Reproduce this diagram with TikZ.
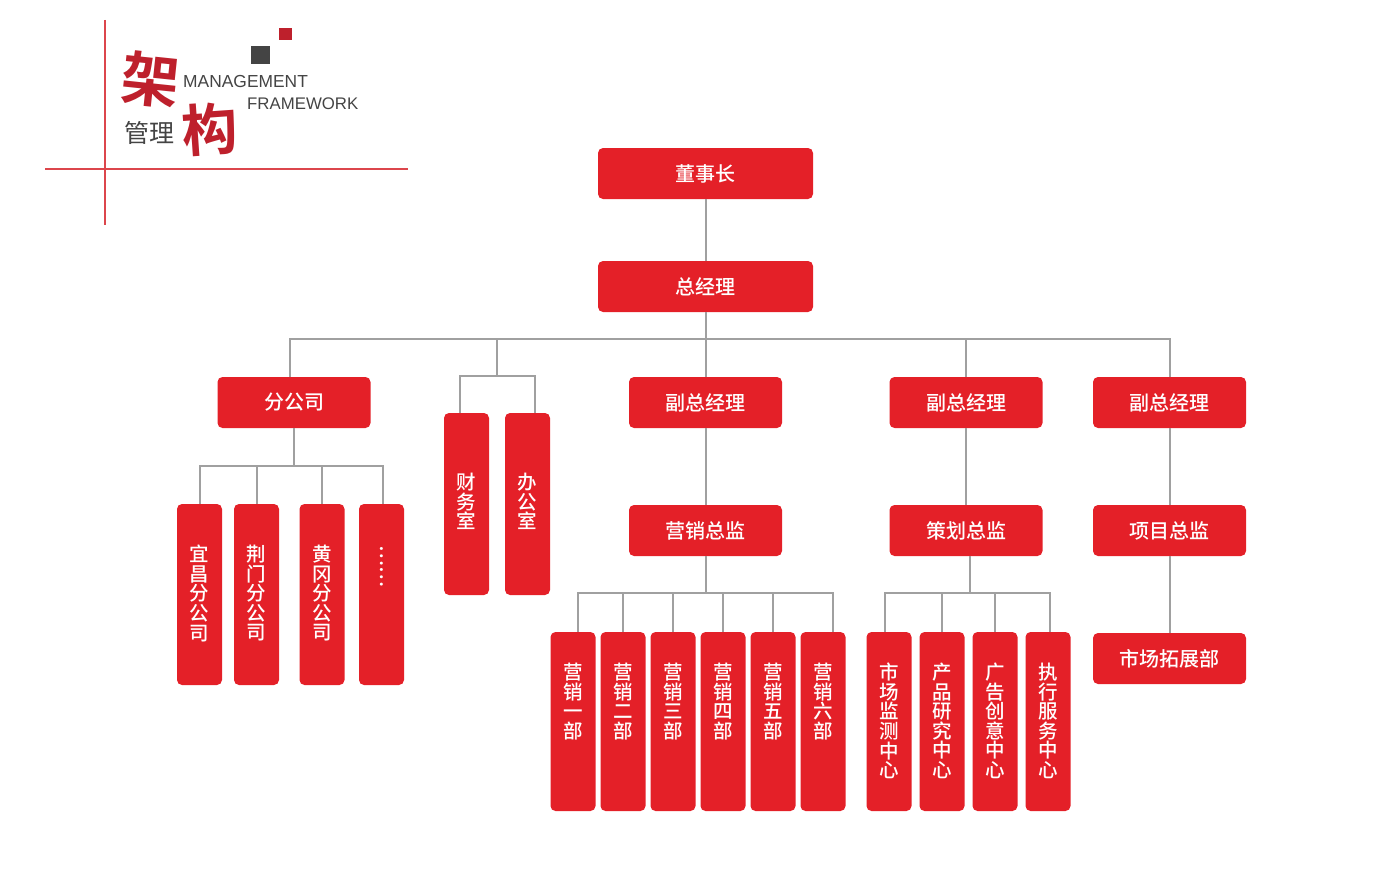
\documentclass[tikz,border=0pt]{standalone}
\usepackage{fontspec}
\setmainfont{Liberation Sans}
\newfontfamily\cjk{Noto Sans CJK SC}[UprightFont=* Medium, BoldFont=* Bold]
\newfontfamily\cjklight{Noto Sans CJK SC}
\usetikzlibrary{positioning}

\definecolor{boxred}{RGB}{228,32,40}
\definecolor{linkgray}{RGB}{160,160,160}
\definecolor{logored}{RGB}{190,32,44}
\definecolor{logoline}{RGB}{220,70,76}
\definecolor{logogray}{RGB}{68,68,68}

\tikzset{
  wbox/.style={fill=boxred, rounded corners=5pt, minimum width=153pt, minimum height=51pt,
    inner sep=0pt, text=white, font=\cjk\fontsize{20}{20}\selectfont},
  topbox/.style={wbox, minimum width=215pt},
  tbox/.style={fill=boxred, rounded corners=5pt, minimum width=45pt, inner sep=0pt},
  tlabel/.style={anchor=north, text=white, align=center, inner sep=0pt,
    font=\cjk\fontsize{19.5}{19.6}\selectfont},
  link/.style={draw=linkgray, line width=2pt},
}

\begin{document}
\begin{tikzpicture}[x=1pt,y=-1pt]
\useasboundingbox (0,0) rectangle (1400,891);

% logo
\draw[draw=logoline, line width=1.2pt] (105,20) -- (105,225);
\draw[draw=logoline, line width=1.2pt] (45,169) -- (408,169);
\fill[logored] (279,28) rectangle (292,40);
\fill[logogray] (251,46) rectangle (270,64);
\node[text=logored, font=\cjk\bfseries\fontsize{58}{58}\selectfont, rotate=-6] (jia) at (151,80) {架};
\node[text=logored, font=\cjk\bfseries\fontsize{56}{56}\selectfont, rotate=4] (gou) at (210,129) {构};
\node[anchor=base west, inner sep=0pt, text=logogray, font=\fontsize{17.4}{17}\selectfont] (mgmt) at (183,87) {MANAGEMENT};
\node[anchor=base west, inner sep=0pt, text=logogray, font=\fontsize{16.8}{17}\selectfont] (frame) at (247,110) {FRAMEWORK};
\node[text=logogray, font=\cjklight\fontsize{25}{25}\selectfont] (guanli) at (149,133) {管理};

% top levels
\node[topbox] (dsz) at (705.5,173.5) {董事长};
\node[topbox] (zjl) at (705.5,286.5) {总经理};
\node[wbox] (fgs) at (294,402.5) {分公司};
\node[wbox] (fzja) at (705.5,402.5) {副总经理};
\node[wbox] (fzjb) at (966,402.5) {副总经理};
\node[wbox] (fzjc) at (1169.5,402.5) {副总经理};
\node[wbox] (yxzj) at (705.5,530.5) {营销总监};
\node[wbox] (chzj) at (966,530.5) {策划总监};
\node[wbox] (xmzj) at (1169.5,530.5) {项目总监};
\node[wbox] (sctz) at (1169.5,658.5) {市场拓展部};

% branch offices
\foreach \n/\x/\txt in {yc/199.5/宜\\昌\\分\\公\\司, jm/256.5/荆\\门\\分\\公\\司, hg/322/黄\\冈\\分\\公\\司}{
  \node[tbox, minimum height=181pt] (\n) at (\x,594.5) {};
  \node[tlabel] (\n-t) at ([yshift=-41pt]\n.north) {\txt};
}
\node[tbox, minimum height=181pt] (more) at (381.5,594.5) {};
\node[tlabel, anchor=west, rotate=-90] (more-t) at ([yshift=-41pt]more.north) {……};

% offices
\foreach \n/\x/\txt in {cws/466.5/财\\务\\室, bgs/527.5/办\\公\\室}{
  \node[tbox, minimum height=182pt] (\n) at (\x,504) {};
  \node[tlabel] (\n-t) at ([yshift=-60pt]\n.north) {\txt};
}

% departments
\foreach \n/\x/\txt in {y1/573/营\\销\\一\\部, y2/623/营\\销\\二\\部, y3/673/营\\销\\三\\部,
    y4/723/营\\销\\四\\部, y5/773/营\\销\\五\\部, y6/823/营\\销\\六\\部,
    c1/889/市\\场\\监\\测\\中\\心, c2/942/产\\品\\研\\究\\中\\心,
    c3/995/广\\告\\创\\意\\中\\心, c4/1048/执\\行\\服\\务\\中\\心}{
  \node[tbox, minimum height=179pt] (\n) at (\x,721.5) {};
  \node[tlabel] (\n-t) at ([yshift=-31pt]\n.north) {\txt};
}

% connectors
\coordinate (bus) at (705.5,339);
\coordinate (cw) at (497,376);
\coordinate (fb) at (294,466);
\coordinate (yb) at (705.5,593);
\coordinate (cb) at (970,593);

\draw[link] (dsz) -- (zjl);
\draw[link] (zjl) -- (bus);
\draw[link] ([xshift=-4pt]fgs.north) |- (bus) -| (fzjc.north);
\draw[link] (bus) -- (fzja);
\draw[link] (fzjb.north |- bus) -- (fzjb.north);
\draw[link] (cw |- bus) -- (cw);
\draw[link] ([xshift=-7pt]cws.north) |- (cw) -| ([xshift=7pt]bgs.north);

\draw[link] (fgs) -- (fb);
\draw[link] (yc.north) |- (fb) -| ([xshift=1.5pt]more.north);
\draw[link] (jm.north) -- (jm.north |- fb);
\draw[link] (hg.north) -- (hg.north |- fb);

\draw[link] (fzja) -- (yxzj);
\draw[link] (yxzj) -- (yb);
\draw[link] ([xshift=5pt]y1.north) |- (yb) -| ([xshift=10pt]y6.north);
\foreach \n in {y2,y3,y4,y5}
  \draw[link] (\n.north) -- (\n.north |- yb);

\draw[link] (fzjb) -- (chzj);
\draw[link] (chzj.south -| cb) -- (cb);
\draw[link] ([xshift=-4pt]c1.north) |- (cb) -| ([xshift=2pt]c4.north);
\foreach \n in {c2,c3}
  \draw[link] (\n.north) -- (\n.north |- cb);

\draw[link] (fzjc) -- (xmzj);
\draw[link] (xmzj) -- (sctz);
\end{tikzpicture}
\end{document}
